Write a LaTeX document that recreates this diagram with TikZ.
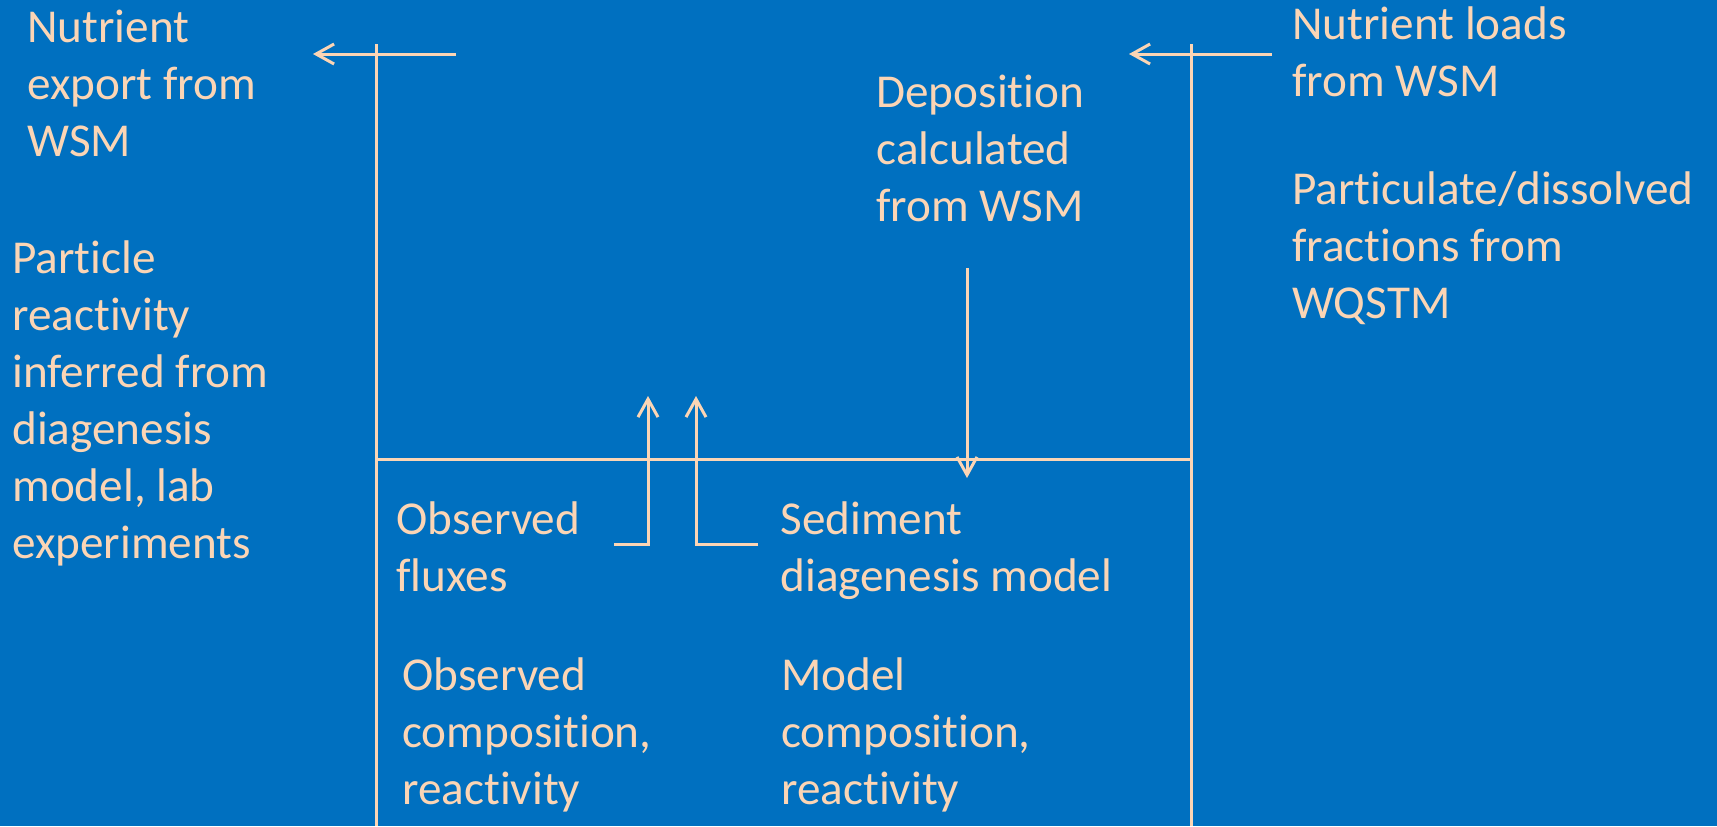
\documentclass[tikz,border=0pt]{standalone}
\usepackage{fontspec}
\setmainfont[Ligatures=NoCommon]{Carlito}
\usetikzlibrary{arrows.meta}
\definecolor{bgblue}{HTML}{0070C0}
\definecolor{peach}{HTML}{FBD5B5}
\newcommand{\txtl}[1]{\begin{tabular}[t]{@{}l@{}}#1\end{tabular}}
\tikzset{
  lbl/.style={anchor=base west, inner sep=0pt, text=peach,
    font=\fontsize{23.6pt}{28.5pt}\selectfont},
  ln/.style={draw=peach, line width=1.5pt},
  arr/.style={ln, -{Straight Barb[length=9pt,width=10pt]}}
}
\begin{document}
\begin{tikzpicture}[x=0.5pt,y=-0.5pt]
\fill[bgblue] (0,0) rectangle (1717,826);
\useasboundingbox (0,0) rectangle (1717,826);
% texts
\node[lbl] (exp) at (27,42) {\txtl{Nutrient\\export from\\WSM}};
\node[lbl] (react) at (12,273) {\txtl{Particle\\reactivity\\inferred from\\diagenesis\\model, lab\\experiments}};
\node[lbl] (dep) at (876,107) {\txtl{Deposition\\calculated\\from WSM}};
\node[lbl] (loads) at (1292,39) {\txtl{Nutrient loads\\from WSM}};
\node[lbl] (frac) at (1292,204) {\txtl{Particulate/dissolved\\fractions from\\WQSTM}};
\node[lbl] (obsf) at (396,534) {\txtl{Observed\\fluxes}};
\node[lbl] (sed) at (780,534) {\txtl{Sediment\\diagenesis model}};
\node[lbl] (obsc) at (402,690) {\txtl{Observed\\composition,\\reactivity}};
\node[lbl] (modc) at (781,690) {\txtl{Model\\composition,\\reactivity}};
% coordinates
\coordinate (lt) at (376,44);
\coordinate (lb) at (376,826);
\coordinate (rt) at (1191,44);
\coordinate (rb) at (1191,826);
\coordinate (hl) at (376,459);
\coordinate (hr) at (1191,459);
\coordinate (a1s) at (456,54);
\coordinate (a1e) at (313,54);
\coordinate (a2s) at (1272,54);
\coordinate (a2e) at (1129,54);
\coordinate (u1s) at (614,544);
\coordinate (u1e) at (648,396);
\coordinate (u2s) at (758,544);
\coordinate (u2e) at (696,396);
\coordinate (ds) at (967,268);
\coordinate (de) at (967,478);
% lines
\draw[ln] (lt) -- (lb);
\draw[ln] (rt) -- (rb);
\draw[ln] (hl) -- (hr);
\draw[arr] (a1s) -- (a1e);
\draw[arr] (a2s) -- (a2e);
\draw[arr] (u1s) -| (u1e);
\draw[arr] (u2s) -| (u2e);
\draw[arr] (ds) -- (de);
\end{tikzpicture}
\end{document}
